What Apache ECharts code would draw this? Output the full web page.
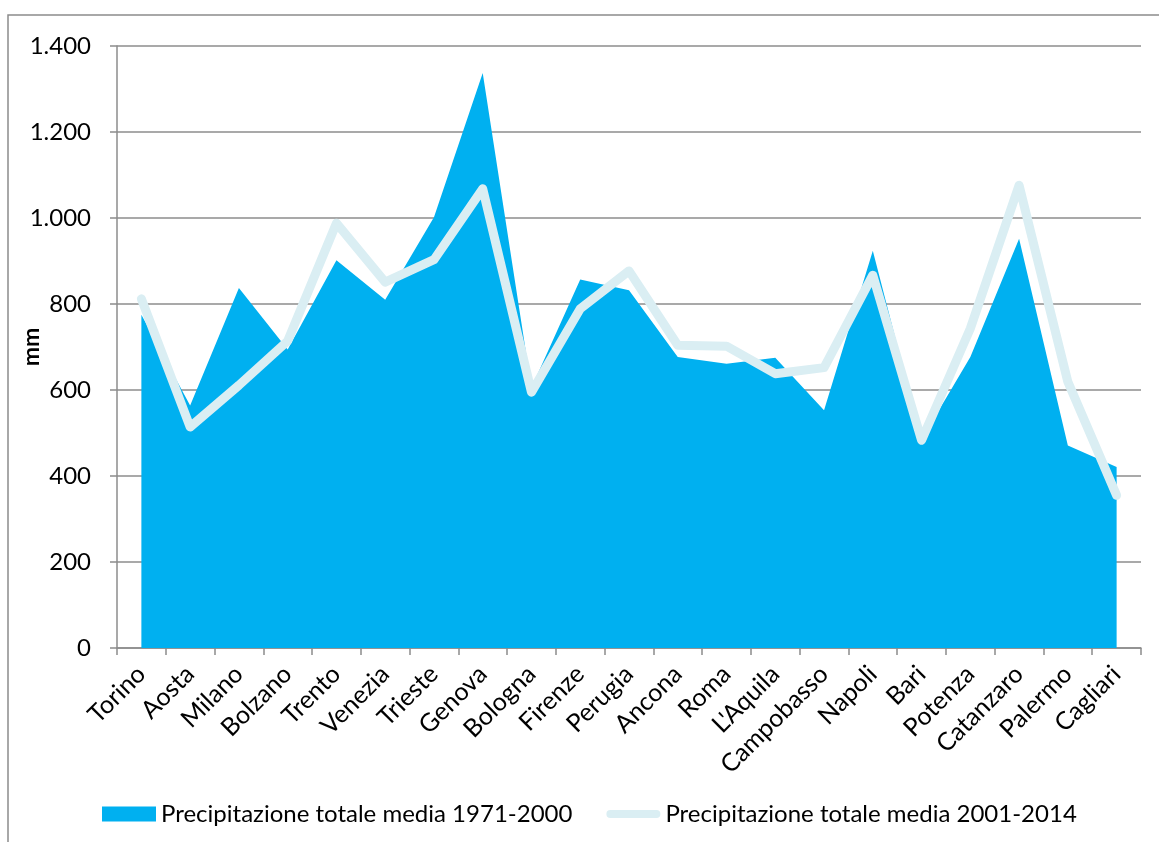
<!DOCTYPE html>
<html>
<head>
<meta charset="utf-8">
<script src="https://cdn.jsdelivr.net/npm/echarts@6/dist/echarts.min.js"></script>
<style>
html,body{margin:0;padding:0;background:#fff;}
#chart{width:1159px;height:842px;}
</style>
</head>
<body>
<div id="chart"></div>
<script>
const categories = ["Torino","Aosta","Milano","Bolzano","Trento","Venezia","Trieste","Genova","Bologna","Firenze","Perugia","Ancona","Roma","L'Aquila","Campobasso","Napoli","Bari","Potenza","Catanzaro","Palermo","Cagliari"];
const precip1971_2000 = [775,564,837,694,902,810,1002,1337,605,857,832,677,661,675,553,924,485,677,952,471,421];
const precip2001_2014 = [812,514,611,714,988,851,903,1068,595,789,877,704,702,638,652,867,483,743,1076,619,355];
const seriesNames = ["Precipitazione totale media 1971-2000","Precipitazione totale media 2001-2014"];
const yAxisName = "mm";

const FONT = "Lato";
const chart = echarts.init(document.getElementById('chart'), null, {renderer:'canvas'});
const fmt = v => String(v).replace(/\B(?=(\d{3})+(?!\d))/g, '.');
const pillIcon = 'path://M0,0 L0.001,0 M0,15 L0.001,15 M4,3.5 L50,3.5 A4,4 0 0 1 50,11.5 L4,11.5 A4,4 0 0 1 4,3.5 Z';

chart.setOption({
  animation: false,
  backgroundColor: '#ffffff',
  textStyle: {fontFamily: FONT},
  graphic: [{
    type: 'rect', silent: true, z: -1,
    shape: {x: 8, y: 15, width: 1300, height: 1000},
    style: {fill: 'none', stroke: '#8c8c8c', lineWidth: 1.5}
  }],
  grid: {left: 117, right: 18, top: 46, bottom: 194, containLabel: false, outerBoundsMode: 'none'},
  legend: {
    left: 97, top: 797,
    itemWidth: 54, itemHeight: 15, itemGap: 34,
    textStyle: {fontFamily: FONT, fontSize: 24, color: '#000'},
    data: [
      {name: seriesNames[0], icon: 'rect'},
      {name: seriesNames[1], icon: pillIcon, itemStyle: {color: '#DAEEF3', borderWidth: 0}, lineStyle: {width: 0}}
    ]
  },
  xAxis: {
    type: 'category',
    data: categories,
    boundaryGap: true,
    axisLine: {show: true, lineStyle: {color: '#8c8c8c', width: 1.5}},
    axisTick: {show: true, length: 7, interval: 0, lineStyle: {color: '#8c8c8c', width: 1.5}},
    axisLabel: {interval: 0, rotate: 45, margin: 22, fontFamily: FONT, fontSize: 25, color: '#000'}
  },
  yAxis: {
    type: 'value',
    min: 0, max: 1400, interval: 200,
    name: yAxisName,
    nameLocation: 'middle',
    nameRotate: 90,
    nameGap: 74,
    nameMoveOverlap: false,
    nameTextStyle: {fontFamily: FONT, fontSize: 23, fontWeight: 'bold', color: '#000'},
    axisLine: {show: true, lineStyle: {color: '#8c8c8c', width: 1.5}},
    axisTick: {show: true, length: 7, lineStyle: {color: '#8c8c8c', width: 1.5}},
    axisLabel: {margin: 26, fontFamily: FONT, fontSize: 24, color: '#000', formatter: fmt},
    splitLine: {show: true, lineStyle: {color: '#8c8c8c', width: 1.5}}
  },
  series: [
    {
      name: seriesNames[0],
      type: 'line',
      data: precip1971_2000,
      symbol: 'none',
      showSymbol: false,
      lineStyle: {width: 0, color: '#00B0F0'},
      itemStyle: {color: '#00B0F0'},
      areaStyle: {color: '#00B0F0', opacity: 1},
      z: 2
    },
    {
      name: seriesNames[1],
      type: 'line',
      data: precip2001_2014,
      symbol: 'none',
      showSymbol: false,
      lineStyle: {width: 9, color: '#DAEEF3', cap: 'round', join: 'round'},
      itemStyle: {color: '#DAEEF3'},
      z: 3
    }
  ]
});
</script>
</body>
</html>
